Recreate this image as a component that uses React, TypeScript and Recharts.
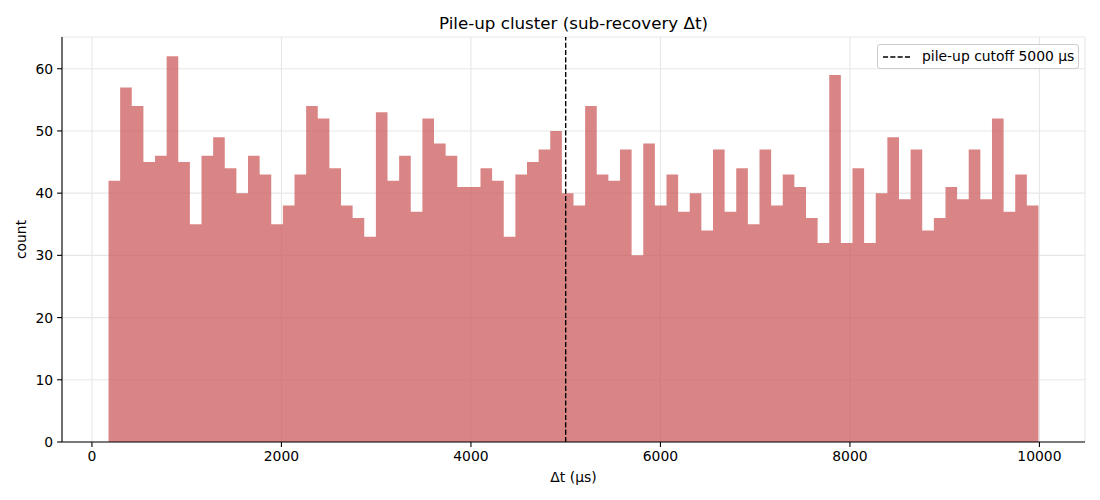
import React from "react";
import {
  ComposedChart,
  Area,
  XAxis,
  YAxis,
  CartesianGrid,
  ReferenceLine,
  Legend,
} from "recharts";

// Histogram: 80 bins of Δt (μs)
const binStart = 175;
const binEnd = 9990;
const binCount = 80;

const counts: number[] = [
  42, 57, 54, 45, 46, 62, 45, 35, 46, 49,
  44, 40, 46, 43, 35, 38, 43, 54, 52, 44,
  38, 36, 33, 53, 42, 46, 37, 52, 48, 46,
  41, 41, 44, 42, 33, 43, 45, 47, 50, 40,
  38, 54, 43, 42, 47, 30, 48, 38, 43, 37,
  40, 34, 47, 37, 44, 35, 47, 38, 43, 41,
  36, 32, 59, 32, 44, 32, 40, 49, 39, 47,
  34, 36, 41, 39, 47, 39, 52, 37, 43, 38,
];

const xTicks: number[] = [0, 2000, 4000, 6000, 8000, 10000];
const yTicks: number[] = [0, 10, 20, 30, 40, 50, 60];
const cutoff = 5000;

const title = "Pile-up cluster (sub-recovery Δt)";
const xLabel = "Δt (μs)";
const yLabel = "count";
const legendLabel = "pile-up cutoff 5000 μs";

const binWidth = (binEnd - binStart) / binCount;
const edges: number[] = counts.map((_, i) => binStart + i * binWidth);
const data = [
  ...counts.map((c, i) => ({ x: edges[i], count: c })),
  { x: binEnd, count: counts[counts.length - 1] },
];

const FONT = "'DejaVu Sans', sans-serif";

const LegendBox = () => (
  <div
    style={{
      width: 200,
      height: 23,
      border: "1px solid #cccccc",
      borderRadius: 3,
      background: "rgba(255,255,255,0.8)",
      position: "relative",
      fontFamily: FONT,
      fontSize: 13.9,
      color: "#000",
    }}
  >
    <svg
      width={30}
      height={23}
      style={{ position: "absolute", left: 4, top: 0 }}
    >
      <line
        x1={1}
        x2={29}
        y1={12}
        y2={12}
        stroke="#000"
        strokeWidth={1.39}
        strokeDasharray="5.1 2.2"
      />
    </svg>
    <span
      style={{
        position: "absolute",
        left: 44,
        top: 0,
        lineHeight: "23px",
        whiteSpace: "nowrap",
      }}
    >
      {legendLabel}
    </span>
  </div>
);

export default function App() {
  return (
    <div
      style={{
        position: "fixed",
        left: 0,
        top: 0,
        width: 1100,
        height: 500,
        background: "#fff",
      }}
    >
      <ComposedChart
        width={1100}
        height={500}
        data={data}
        margin={{ top: 37, right: 15, bottom: 0, left: 0 }}
      >
        <CartesianGrid
          stroke="#e7e7e7"
          strokeWidth={1.1}
          horizontal
          vertical
        />
        <XAxis
          dataKey="x"
          type="number"
          domain={[-316, 10481]}
          ticks={xTicks}
          height={58}
          axisLine={{ stroke: "#000", strokeWidth: 1.1 }}
          tickLine={{ stroke: "#000", strokeWidth: 1.1 }}
          tickSize={4.9}
          tickMargin={4}
          allowDataOverflow
          tick={{ fill: "#000", fontSize: 13.9, fontFamily: FONT }}
        />
        <YAxis
          type="number"
          domain={[0, 65.1]}
          ticks={yTicks}
          width={62}
          axisLine={{ stroke: "#000", strokeWidth: 1.1 }}
          tickLine={{ stroke: "#000", strokeWidth: 1.1 }}
          tickSize={4.9}
          tickMargin={4}
          allowDataOverflow
          tick={{ fill: "#000", fontSize: 13.9, fontFamily: FONT }}
        />
        <Area
          dataKey="count"
          type="stepAfter"
          baseValue={0}
          fill="indianred"
          fillOpacity={0.75}
          stroke="none"
          isAnimationActive={false}
          dot={false}
          activeDot={false}
          legendType="none"
        />
        <ReferenceLine
          x={cutoff}
          stroke="#000"
          strokeWidth={1.39}
          strokeDasharray="5.1 2.2"
          ifOverflow="extendDomain"
        />
        <Legend
          layout="vertical"
          align="center"
          verticalAlign="middle"
          content={() => <LegendBox />}
          wrapperStyle={{ left: 877, top: 44, width: 202, height: 25 }}
        />
      </ComposedChart>
      <svg
        width={1100}
        height={500}
        style={{ position: "absolute", left: 0, top: 0, pointerEvents: "none" }}
      >
        <text
          x={573.5}
          y={29}
          textAnchor="middle"
          fontFamily={FONT}
          fontSize={16.7}
          fill="#000"
        >
          {title}
        </text>
        <text
          x={573.5}
          y={482}
          textAnchor="middle"
          fontFamily={FONT}
          fontSize={13.9}
          fill="#000"
        >
          {xLabel}
        </text>
        <text
          x={26}
          y={239.5}
          textAnchor="middle"
          fontFamily={FONT}
          fontSize={13.9}
          fill="#000"
          transform="rotate(-90 26 239.5)"
        >
          {yLabel}
        </text>
      </svg>
    </div>
  );
}
